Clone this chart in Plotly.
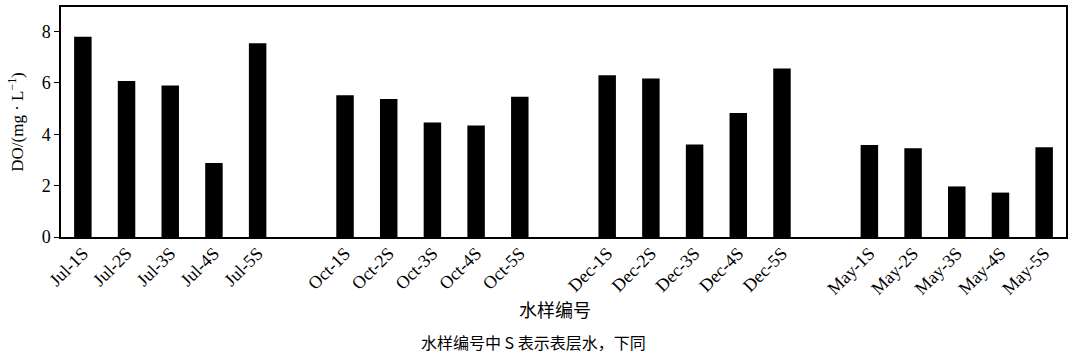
import plotly.graph_objects as go

groups = ["Jul", "Oct", "Dec", "May"]
sites = ["1S", "2S", "3S", "4S", "5S"]
categories = [f"{g}-{s}" for g in groups for s in sites]
do_values = [7.80, 6.08, 5.90, 2.88, 7.55,
             5.52, 5.38, 4.46, 4.34, 5.46,
             6.30, 6.17, 3.60, 4.83, 6.56,
             3.58, 3.46, 1.97, 1.73, 3.50]

# positions with one empty slot between sampling campaigns
xpos = [gi * (len(sites) + 1) + si for gi in range(len(groups)) for si in range(len(sites))]

fig = go.Figure()
fig.add_trace(go.Bar(x=xpos, y=do_values, width=0.4,
                     marker=dict(color="black", line=dict(width=0))))

font_serif = "Liberation Serif, Times New Roman, serif"
fig.update_layout(
    width=1073, height=359,
    margin=dict(l=61, r=7, t=5, b=122),
    plot_bgcolor="white", paper_bgcolor="white",
    showlegend=False,
    font=dict(family=font_serif, color="black", size=17),
    xaxis=dict(range=[-0.5, xpos[-1] + 0.5], tickvals=xpos, ticktext=categories,
               tickangle=-45, showgrid=False, zeroline=False, showline=True,
               linecolor="black", linewidth=1.5, mirror=True, ticks="",
               ticklabelstandoff=-3,
               tickfont=dict(family=font_serif, size=18, color="black")),
    yaxis=dict(range=[0, 8.96], tickvals=[0, 2, 4, 6, 8], showgrid=False,
               zeroline=False, showline=True, linecolor="black", linewidth=1.5,
               mirror=True, ticks="outside", ticklen=5, tickcolor="black",
               tickfont=dict(family=font_serif, size=18, color="black"),
               title=dict(text="DO/(mg · L<sup>−1</sup>)", standoff=14,
                          font=dict(family=font_serif, size=17, color="black"))),
    annotations=[
        dict(text="水样编号", x=(555 - 61) / 1005, y=310, xref="paper", yref="paper",
             showarrow=False, font=dict(family="Noto Sans CJK SC", size=18, color="black")),
        dict(text="水样编号中 S 表示表层水，下同", x=(533 - 61) / 1005, y=343, xref="paper", yref="paper",
             showarrow=False, font=dict(family="Noto Sans CJK SC", size=16, color="black")),
    ],
)
# convert pixel y positions for annotations to paper coords
plot_h = 359 - 5 - 122
for ann in fig.layout.annotations:
    pix = ann.y
    ann.y = (359 - 122 - pix) / plot_h
    ann.yanchor = "middle"

fig.write_html("out.html")
